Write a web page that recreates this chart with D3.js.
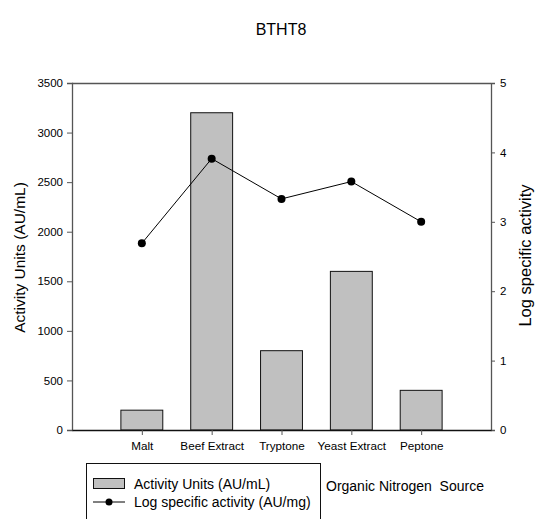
<!DOCTYPE html>
<html>
<head>
<meta charset="utf-8">
<script src="https://cdn.jsdelivr.net/npm/d3@7"></script>
<style>
  html, body { margin: 0; padding: 0; background: #fff; }
  svg { display: block; font-family: "Liberation Sans", Arial, sans-serif; }
</style>
</head>
<body>
<svg id="chart" width="537" height="519"></svg>
<script>
// Nitrogen sources and measured activities
const categories = ["Malt", "Beef Extract", "Tryptone", "Yeast Extract", "Peptone"];
const activityUnits = [200, 3200, 800, 1600, 400];          // AU/mL (bars)
const logSpecificActivity = [2.69, 3.91, 3.33, 3.58, 3.00]; // log AU/mg (line)
const leftTicks = [0, 500, 1000, 1500, 2000, 2500, 3000, 3500];
const rightTicks = [0, 1, 2, 3, 4, 5];

const svg = d3.select("#chart");
const plot = { left: 72, right: 491, top: 83, bottom: 430 };

const x = d3.scalePoint().domain(categories)
  .range([plot.left, plot.right]).padding(1);
const yLeft = d3.scaleLinear().domain([0, 3500]).range([plot.bottom, plot.top]);
const yRight = d3.scaleLinear().domain([0, 5]).range([plot.bottom, plot.top]);
const barW = x.step() * 0.6;

// Title
svg.append("text").attr("x", 281).attr("y", 35)
  .attr("text-anchor", "middle").attr("font-size", 16).attr("fill", "#000")
  .text("BTHT8");

// Bars
svg.append("g").selectAll("rect").data(categories).join("rect")
  .attr("x", d => x(d) - barW / 2)
  .attr("y", (d, i) => yLeft(activityUnits[i]))
  .attr("width", barW)
  .attr("height", (d, i) => plot.bottom - yLeft(activityUnits[i]))
  .attr("fill", "#c0c0c0").attr("stroke", "#111").attr("stroke-width", 1);

// Frame: top line
svg.append("line").attr("x1", plot.left).attr("x2", plot.right)
  .attr("y1", plot.top + 0.5).attr("y2", plot.top + 0.5)
  .attr("stroke", "#555").attr("stroke-width", 1.3);

// Left axis
const gL = svg.append("g").attr("transform", `translate(${plot.left},0)`)
  .call(d3.axisLeft(yLeft).tickValues(leftTicks).tickSize(5).tickPadding(4).tickFormat(d3.format("d")));
gL.select(".domain").attr("stroke", "#555").attr("stroke-width", 1.3);
gL.selectAll(".tick line").attr("stroke", "#555");
gL.selectAll(".tick text").attr("font-size", 11.5).attr("font-family", "Liberation Sans, Arial, sans-serif").attr("fill", "#000");

// Right axis
const gR = svg.append("g").attr("transform", `translate(${plot.right},0)`)
  .call(d3.axisRight(yRight).tickValues(rightTicks).tickSize(4).tickPadding(5).tickFormat(d3.format("d")));
gR.select(".domain").attr("stroke", "#555").attr("stroke-width", 1.3);
gR.selectAll(".tick line").attr("stroke", "#555");
gR.selectAll(".tick text").attr("font-size", 11.5).attr("font-family", "Liberation Sans, Arial, sans-serif").attr("fill", "#000");

// Bottom axis
const gB = svg.append("g").attr("transform", `translate(0,${plot.bottom})`)
  .call(d3.axisBottom(x).tickSize(5).tickPadding(7).tickSizeOuter(0));
gB.select(".domain").attr("stroke", "#111").attr("stroke-width", 1.3);
gB.selectAll(".tick line").attr("stroke", "#555");
gB.selectAll(".tick text").attr("font-size", 11.7).attr("font-family", "Liberation Sans, Arial, sans-serif").attr("fill", "#000");

// Axis titles
svg.append("text").attr("transform", `translate(25,${(plot.top + plot.bottom) / 2 + 1}) rotate(-90)`)
  .attr("text-anchor", "middle").attr("font-size", 15.5).text("Activity Units (AU/mL)");
svg.append("text").attr("transform", `translate(531,${(plot.top + plot.bottom) / 2 - 1}) rotate(-90)`)
  .attr("text-anchor", "middle").attr("font-size", 16.5).text("Log specific activity");

// Line series
const line = d3.line()
  .x((d, i) => x(categories[i]))
  .y(d => yRight(d));
svg.append("path").datum(logSpecificActivity)
  .attr("d", line).attr("fill", "none").attr("stroke", "#000").attr("stroke-width", 1);
svg.append("g").selectAll("circle").data(logSpecificActivity).join("circle")
  .attr("cx", (d, i) => x(categories[i]))
  .attr("cy", d => yRight(d))
  .attr("r", 4).attr("fill", "#000");

// Legend
const lg = svg.append("g");
lg.append("rect").attr("x", 86.5).attr("y", 463.5).attr("width", 234).attr("height", 80)
  .attr("fill", "none").attr("stroke", "#111").attr("stroke-width", 1);
lg.append("rect").attr("x", 93.5).attr("y", 478.5).attr("width", 31).attr("height", 10)
  .attr("fill", "#c0c0c0").attr("stroke", "#111");
lg.append("text").attr("x", 134).attr("y", 489).attr("font-size", 14).text("Activity Units (AU/mL)");
lg.append("line").attr("x1", 93).attr("x2", 125).attr("y1", 502).attr("y2", 502)
  .attr("stroke", "#000").attr("stroke-width", 1);
lg.append("circle").attr("cx", 109).attr("cy", 502).attr("r", 3.5).attr("fill", "#000");
lg.append("text").attr("x", 134).attr("y", 507).attr("font-size", 14).text("Log specific activity (AU/mg)");

svg.append("text").attr("x", 326).attr("y", 491).attr("font-size", 14)
  .attr("xml:space", "preserve").style("white-space", "pre")
  .text("Organic Nitrogen  Source");
</script>
</body>
</html>
